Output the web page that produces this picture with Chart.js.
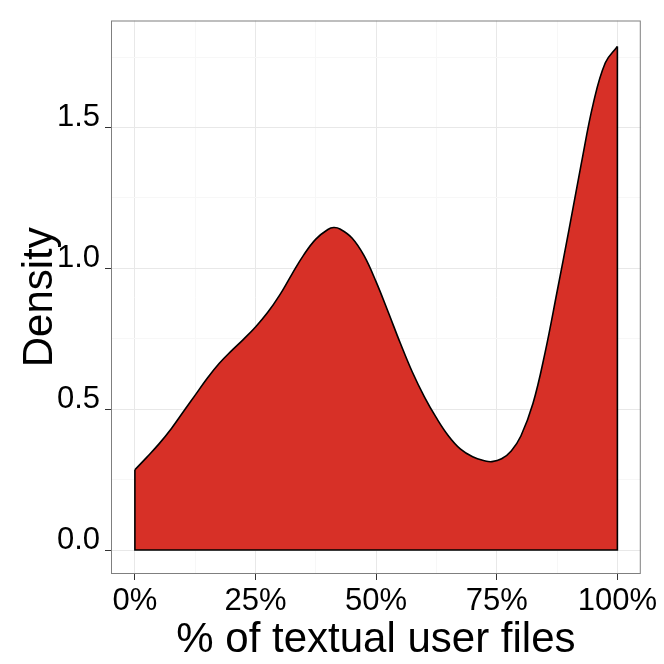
<!DOCTYPE html>
<html>
<head>
<meta charset="utf-8">
<script src="https://cdn.jsdelivr.net/npm/chart.js@4"></script>
<style>
  html, body { margin: 0; padding: 0; background: #ffffff; }
  #chart { display: block; }
</style>
</head>
<body>
<canvas id="chart" width="664" height="664"></canvas>
<script>
// Density values
const xPct = [0, 2.5, 5, 7.5, 10, 12.5, 15, 17.5, 20, 22.5, 25, 27.5, 30, 32.5, 35, 37.5, 40, 41.2, 42.5, 45,
    47.5, 50, 52.5, 55, 57.5, 60, 62.5, 65, 67.5, 70, 72.5, 74, 76, 78, 80, 82.5, 85, 87.5, 90, 92.5, 95, 97.5, 100];
const density = [0.285, 0.33, 0.377, 0.43, 0.49, 0.55, 0.61, 0.663, 0.707, 0.748, 0.792, 0.843, 0.905, 0.978, 1.048, 1.104, 1.138, 1.145, 1.140, 1.108,
    1.045, 0.952, 0.845, 0.735, 0.632, 0.544, 0.469, 0.405, 0.358, 0.331, 0.317, 0.314, 0.324, 0.352, 0.405, 0.52, 0.70, 0.917, 1.14, 1.37, 1.585, 1.73, 1.788];

// Axis ticks (major ones get labels, the others are minor grid lines)
const xTicks = [0, 12.5, 25, 37.5, 50, 62.5, 75, 87.5, 100];
const xLabels = [0, 25, 50, 75, 100];
const yTicks = [0, 0.25, 0.5, 0.75, 1, 1.25, 1.5, 1.75];
const yLabels = [0, 0.5, 1, 1.5];

const xTitle = '% of textual user files';
const yTitle = 'Density';

// Colours
const fillColor = '#D73027';
const majorGrid = '#E8E8E8';
const minorGrid = '#F7F7F7';
const tickMarkColor = '#333333';
const borderColor = '#7F7F7F';

const curvePoints = xPct.map((x, i) => ({ x: x, y: density[i] }));
const lastIdx = xPct.length - 1;
const edgePoints = [
    { x: xPct[0], y: density[0] },
    { x: xPct[0], y: 0 },
    { x: xPct[lastIdx], y: 0 },
    { x: xPct[lastIdx], y: density[lastIdx] }
];

// Panel border on all four sides
const panelBorder = {
    id: 'panelBorder',
    afterDraw(chart) {
        const { ctx, chartArea } = chart;
        ctx.save();
        ctx.strokeStyle = borderColor;
        ctx.lineWidth = 1;
        ctx.strokeRect(chartArea.left + 0.5, chartArea.top + 0.5,
            chartArea.right - chartArea.left - 1, chartArea.bottom - chartArea.top - 1);
        ctx.restore();
    }
};

const tickFont = { family: 'Liberation Sans', size: 31, lineHeight: 1 };
const titleFont = { family: 'Liberation Sans', size: 42, lineHeight: 1 };

const isMajor = (list, v) => list.some(t => Math.abs(t - v) < 1e-6);

new Chart(document.getElementById('chart').getContext('2d'), {
    type: 'line',
    data: {
        datasets: [{
            data: curvePoints,
            borderColor: '#000000',
            borderWidth: 1.6,
            backgroundColor: fillColor,
            fill: 'origin',
            tension: 0.4,
            pointRadius: 0,
            order: 2
        }, {
            data: edgePoints,
            borderColor: '#000000',
            borderWidth: 1.6,
            fill: false,
            tension: 0,
            pointRadius: 0,
            order: 1
        }]
    },
    options: {
        responsive: false,
        animation: false,
        layout: { padding: { top: 20, right: 22, left: 0, bottom: 0 } },
        plugins: {
            legend: { display: false },
            tooltip: { enabled: false }
        },
        scales: {
            x: {
                type: 'linear',
                min: -4.95,
                max: 104.85,
                afterBuildTicks: s => { s.ticks = xTicks.map(v => ({ value: v })); },
                afterFit: s => { s.height = 90; },
                ticks: {
                    autoSkip: false,
                    maxRotation: 0,
                    padding: 6,
                    color: '#000000',
                    font: tickFont,
                    callback: v => isMajor(xLabels, v) ? v + '%' : ''
                },
                grid: {
                    color: c => isMajor(xLabels, c.tick.value) ? majorGrid : minorGrid,
                    tickColor: c => isMajor(xLabels, c.tick.value) ? tickMarkColor : 'rgba(0,0,0,0)',
                    tickLength: 6,
                    lineWidth: 1
                },
                border: { display: false },
                title: {
                    display: true,
                    text: xTitle,
                    color: '#000000',
                    font: titleFont,
                    padding: { top: 0, bottom: 3 }
                }
            },
            y: {
                type: 'linear',
                min: -0.085,
                max: 1.88,
                afterBuildTicks: s => { s.ticks = yTicks.map(v => ({ value: v })); },
                afterFit: s => { s.width = 111; },
                ticks: {
                    autoSkip: false,
                    padding: 5,
                    labelOffset: -10,
                    color: '#000000',
                    font: tickFont,
                    callback: v => isMajor(yLabels, v) ? v.toFixed(1) : ''
                },
                grid: {
                    color: c => isMajor(yLabels, c.tick.value) ? majorGrid : minorGrid,
                    tickColor: c => isMajor(yLabels, c.tick.value) ? tickMarkColor : 'rgba(0,0,0,0)',
                    tickLength: 6,
                    lineWidth: 1
                },
                border: { display: false },
                title: {
                    display: true,
                    text: yTitle,
                    color: '#000000',
                    font: titleFont,
                    padding: { top: 19, bottom: 0 }
                }
            }
        }
    },
    plugins: [panelBorder]
});
</script>
</body>
</html>
